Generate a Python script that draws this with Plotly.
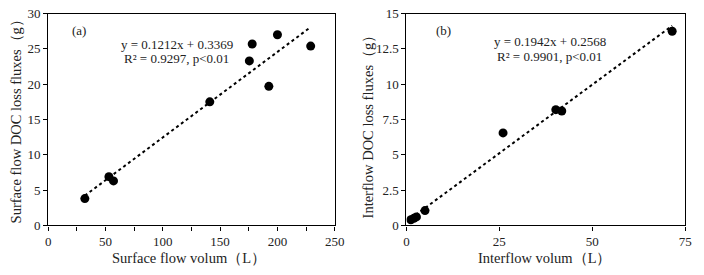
import plotly.graph_objects as go

# Panel (a) surface flow
surf_vol = [32, 53, 57, 141, 175.5, 178, 192.5, 200, 229]
surf_doc = [3.8, 6.9, 6.3, 17.5, 23.3, 25.7, 19.7, 27.0, 25.4]
surf_slope, surf_int = 0.1212, 0.3369

# Panel (b) interflow
inter_vol = [1.2, 2.0, 2.7, 5.0, 26.0, 40.2, 41.8, 71.5]
inter_doc = [0.4, 0.5, 0.6, 1.05, 6.55, 8.2, 8.1, 13.75]
inter_slope, inter_int = 0.1942, 0.2568

FONT = "Liberation Serif"
W, H = 704, 275

fig = go.Figure()

fig.add_trace(go.Scatter(x=surf_vol, y=surf_doc, mode="markers",
                         marker=dict(color="black", size=9), xaxis="x", yaxis="y", showlegend=False))
sx = [min(surf_vol), max(surf_vol)]
fig.add_trace(go.Scatter(x=sx, y=[surf_slope * v + surf_int for v in sx], mode="lines",
                         line=dict(color="black", width=2, dash="dot"), xaxis="x", yaxis="y", showlegend=False))

fig.add_trace(go.Scatter(x=inter_vol, y=inter_doc, mode="markers",
                         marker=dict(color="black", size=9), xaxis="x2", yaxis="y2", showlegend=False))
ix = [min(inter_vol), max(inter_vol)]
fig.add_trace(go.Scatter(x=ix, y=[inter_slope * v + inter_int for v in ix], mode="lines",
                         line=dict(color="black", width=2, dash="dot"), xaxis="x2", yaxis="y2", showlegend=False))

ax_common = dict(showgrid=False, zeroline=False, showline=True, linecolor="black", linewidth=1.2,
                 mirror=True, ticks="outside", ticklen=4, tickcolor="black",
                 ticklabeloverflow="allow",
                 tickfont=dict(family=FONT, size=13, color="#222"))

ydom = [1 - 231 / H, 1 - 7 / H]
fig.update_layout(
    width=W, height=H, margin=dict(l=0, r=0, t=0, b=0),
    plot_bgcolor="white", paper_bgcolor="white",
    xaxis=dict(domain=[46 / W, 338 / W], range=[0, 250], dtick=50,
               minor=dict(dtick=25, ticks="outside", ticklen=4, tickcolor="black"), anchor="y", **ax_common),
    yaxis=dict(domain=ydom, range=[0, 30], dtick=5, anchor="x", **ax_common),
    xaxis2=dict(domain=[411 / W, 695 / W], range=[0, 75], dtick=25, anchor="y2", **ax_common),
    yaxis2=dict(domain=ydom, range=[0, 15], dtick=2.5, anchor="x2", **ax_common),
)

tf_title = dict(family=FONT, size=14.5, color="#222")
tf = dict(family=FONT, size=13, color="#222")
titles = [
    dict(x=190 / W, y=1 - 265 / H, text="Surface flow volum（L）", textangle=0),
    dict(x=552 / W, y=1 - 265 / H, text="Interflow volum（L）", textangle=0),
    dict(x=13 / W, y=1 - 117 / H, text="Surface flow DOC loss fluxes（g）", textangle=-90),
    dict(x=372 / W, y=1 - 123 / H, text="Interflow DOC loss fluxes（g）", textangle=-90),
]
labels = [
    dict(x=77 / W, y=1 - 25 / H, text="(a)", textangle=0),
    dict(x=449 / W, y=1 - 25 / H, text="(b)", textangle=0),
    dict(x=177 / W, y=1 - 40 / H, text=f"y = {surf_slope}x + {surf_int}", textangle=0),
    dict(x=177 / W, y=1 - 55 / H, text="R² = 0.9297, p<0.01", textangle=0),
    dict(x=557 / W, y=1 - 37 / H, text=f"y = {inter_slope}x + {inter_int}", textangle=0),
    dict(x=557 / W, y=1 - 52 / H, text="R² = 0.9901, p<0.01", textangle=0),
]
for a in titles:
    fig.add_annotation(xref="paper", yref="paper", showarrow=False, xanchor="center", yanchor="middle",
                       font=tf_title, **a)
for a in labels:
    fig.add_annotation(xref="paper", yref="paper", showarrow=False, xanchor="center", yanchor="middle",
                       font=tf, **a)

fig.write_html("out.html")
